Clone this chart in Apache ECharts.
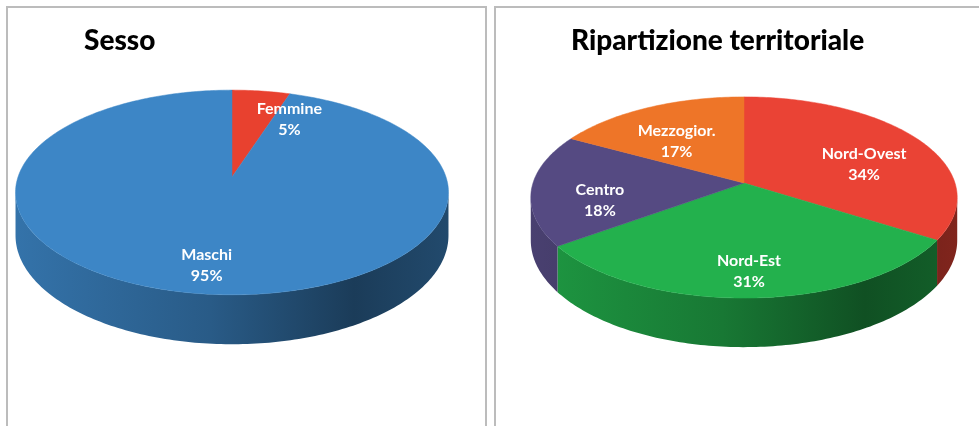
<!DOCTYPE html>
<html>
<head>
<meta charset="utf-8">
<script src="https://cdn.jsdelivr.net/npm/echarts@6/dist/echarts.min.js"></script>
<style>
  html, body { margin: 0; padding: 0; background: #ffffff; }
  #chart { width: 979px; height: 426px; }
</style>
</head>
<body>
<div id="chart"></div>
<script>
// Composizione per sesso
const sessoNames = ['Femmine', 'Maschi'];
const sessoValues = [5, 95];
const sessoColors = ['#e8412f', '#3d86c6'];

// Ripartizione territoriale
const territorioNames = ['Nord-Ovest', 'Nord-Est', 'Centro', 'Mezzogior.'];
const territorioValues = [34, 31, 18, 17];
const territorioColors = ['#ea4335', '#23b14d', '#554a82', '#ee7528'];

const titles = ['Sesso', 'Ripartizione territoriale'];

// Perspective geometry of each 3D pie (screen centre of the apex, half-axes,
// perspective strength and wall thickness)
const pieGeom = [
  { cx: 232, cy: 177, a: 214, b: 100, p: 0.151, t: 42 },
  { cx: 744, cy: 183, a: 211, b: 98.5, p: 0.144, t: 42 }
];

function project(g, phi, r, h) {
  const X = r * Math.sin(phi);
  const Z = -r * Math.cos(phi);
  const d = 1 - g.p * Z;
  return [g.cx + g.a * X / d, g.cy + (g.b * Z + g.t * h) / d];
}

function shade(hex, k) {
  const n = parseInt(hex.slice(1), 16);
  const r = Math.round(((n >> 16) & 255) * k);
  const gg = Math.round(((n >> 8) & 255) * k);
  const b = Math.round((n & 255) * k);
  return 'rgb(' + r + ',' + gg + ',' + b + ')';
}

const labelFont = 'bold 16px Lato';

function makeRenderItem(values, names, colors, g) {
  const total = values.reduce((s, v) => s + v, 0);
  const starts = [];
  let acc = 0;
  values.forEach(v => { starts.push(acc / total * Math.PI * 2); acc += v; });
  const visA = Math.acos(-g.p);
  const visB = Math.PI * 2 - visA;
  const left = g.cx - g.a * 1.02, right = g.cx + g.a * 1.02;

  return function (params, api) {
    const i = params.dataIndex;
    const v = api.value(0);
    const phi0 = starts[i];
    const phi1 = phi0 + v / total * Math.PI * 2;
    const children = [];
    const steps = Math.max(4, Math.ceil((phi1 - phi0) / (Math.PI / 180)));

    // outer wall (front, visible part only)
    const s = Math.max(phi0, visA), e = Math.min(phi1, visB);
    if (e > s) {
      const n = Math.max(4, Math.ceil((e - s) / (Math.PI / 180)));
      const pts = [];
      for (let k = 0; k <= n; k++) pts.push(project(g, s + (e - s) * k / n, 1, 0));
      for (let k = n; k >= 0; k--) pts.push(project(g, s + (e - s) * k / n, 1, 1));
      const c = colors[i];
      children.push({
        type: 'polygon',
        shape: { points: pts },
        style: {
          fill: new echarts.graphic.LinearGradient(left, 0, right, 0, [
            { offset: 0, color: shade(c, 0.86) },
            { offset: 0.45, color: shade(c, 0.68) },
            { offset: 0.78, color: shade(c, 0.45) },
            { offset: 1, color: shade(c, 0.55) }
          ], true),
          stroke: null
        }
      });
    }

    // top face
    const top = [project(g, 0, 0, 0)];
    for (let k = 0; k <= steps; k++) top.push(project(g, phi0 + (phi1 - phi0) * k / steps, 1, 0));
    children.push({
      type: 'polygon',
      shape: { points: top },
      style: { fill: colors[i], stroke: colors[i], lineWidth: 0.5 }
    });

    // label; narrow slices get their label pushed out beside the slice
    const mid = (phi0 + phi1) / 2;
    const lp = project(g, mid, 0.68, 0.3);
    const small = v / total < 0.08;
    const text = names[i] + '\n' + Math.round(v / total * 100) + '%';
    const halfW = echarts.format.getTextRect
      ? echarts.format.getTextRect(names[i], labelFont).width / 2
      : 33;
    children.push({
      type: 'text',
      z2: 10,
      style: {
        text: text,
        x: small ? lp[0] + 4 + halfW : lp[0],
        y: small ? lp[1] - 8 : lp[1],
        fill: '#ffffff',
        font: labelFont,
        lineHeight: 21,
        align: 'center',
        verticalAlign: 'middle'
      }
    });
    return { type: 'group', children: children };
  };
}

const chart = echarts.init(document.getElementById('chart'), null, { renderer: 'canvas' });

const titleStyle = { fontFamily: 'Lato', fontWeight: 900, fontSize: 28, color: '#000000' };

chart.setOption({
  animation: false,
  backgroundColor: '#ffffff',
  title: [
    { text: titles[0], left: 79, top: 22, textStyle: titleStyle },
    { text: titles[1], left: 566, top: 22, textStyle: titleStyle }
  ],
  graphic: [
    { type: 'rect', shape: { x: 7, y: 7, width: 479, height: 440 },
      style: { fill: null, stroke: '#bcbcbc', lineWidth: 2 } },
    { type: 'rect', shape: { x: 495, y: 7, width: 500, height: 440 },
      style: { fill: null, stroke: '#bcbcbc', lineWidth: 2 } }
  ],
  series: [
    {
      type: 'custom',
      name: titles[0],
      coordinateSystem: 'none',
      data: sessoValues.map((v, i) => ({ name: sessoNames[i], value: [v] })),
      renderItem: makeRenderItem(sessoValues, sessoNames, sessoColors, pieGeom[0])
    },
    {
      type: 'custom',
      name: titles[1],
      coordinateSystem: 'none',
      data: territorioValues.map((v, i) => ({ name: territorioNames[i], value: [v] })),
      renderItem: makeRenderItem(territorioValues, territorioNames, territorioColors, pieGeom[1])
    }
  ]
});
</script>
</body>
</html>
